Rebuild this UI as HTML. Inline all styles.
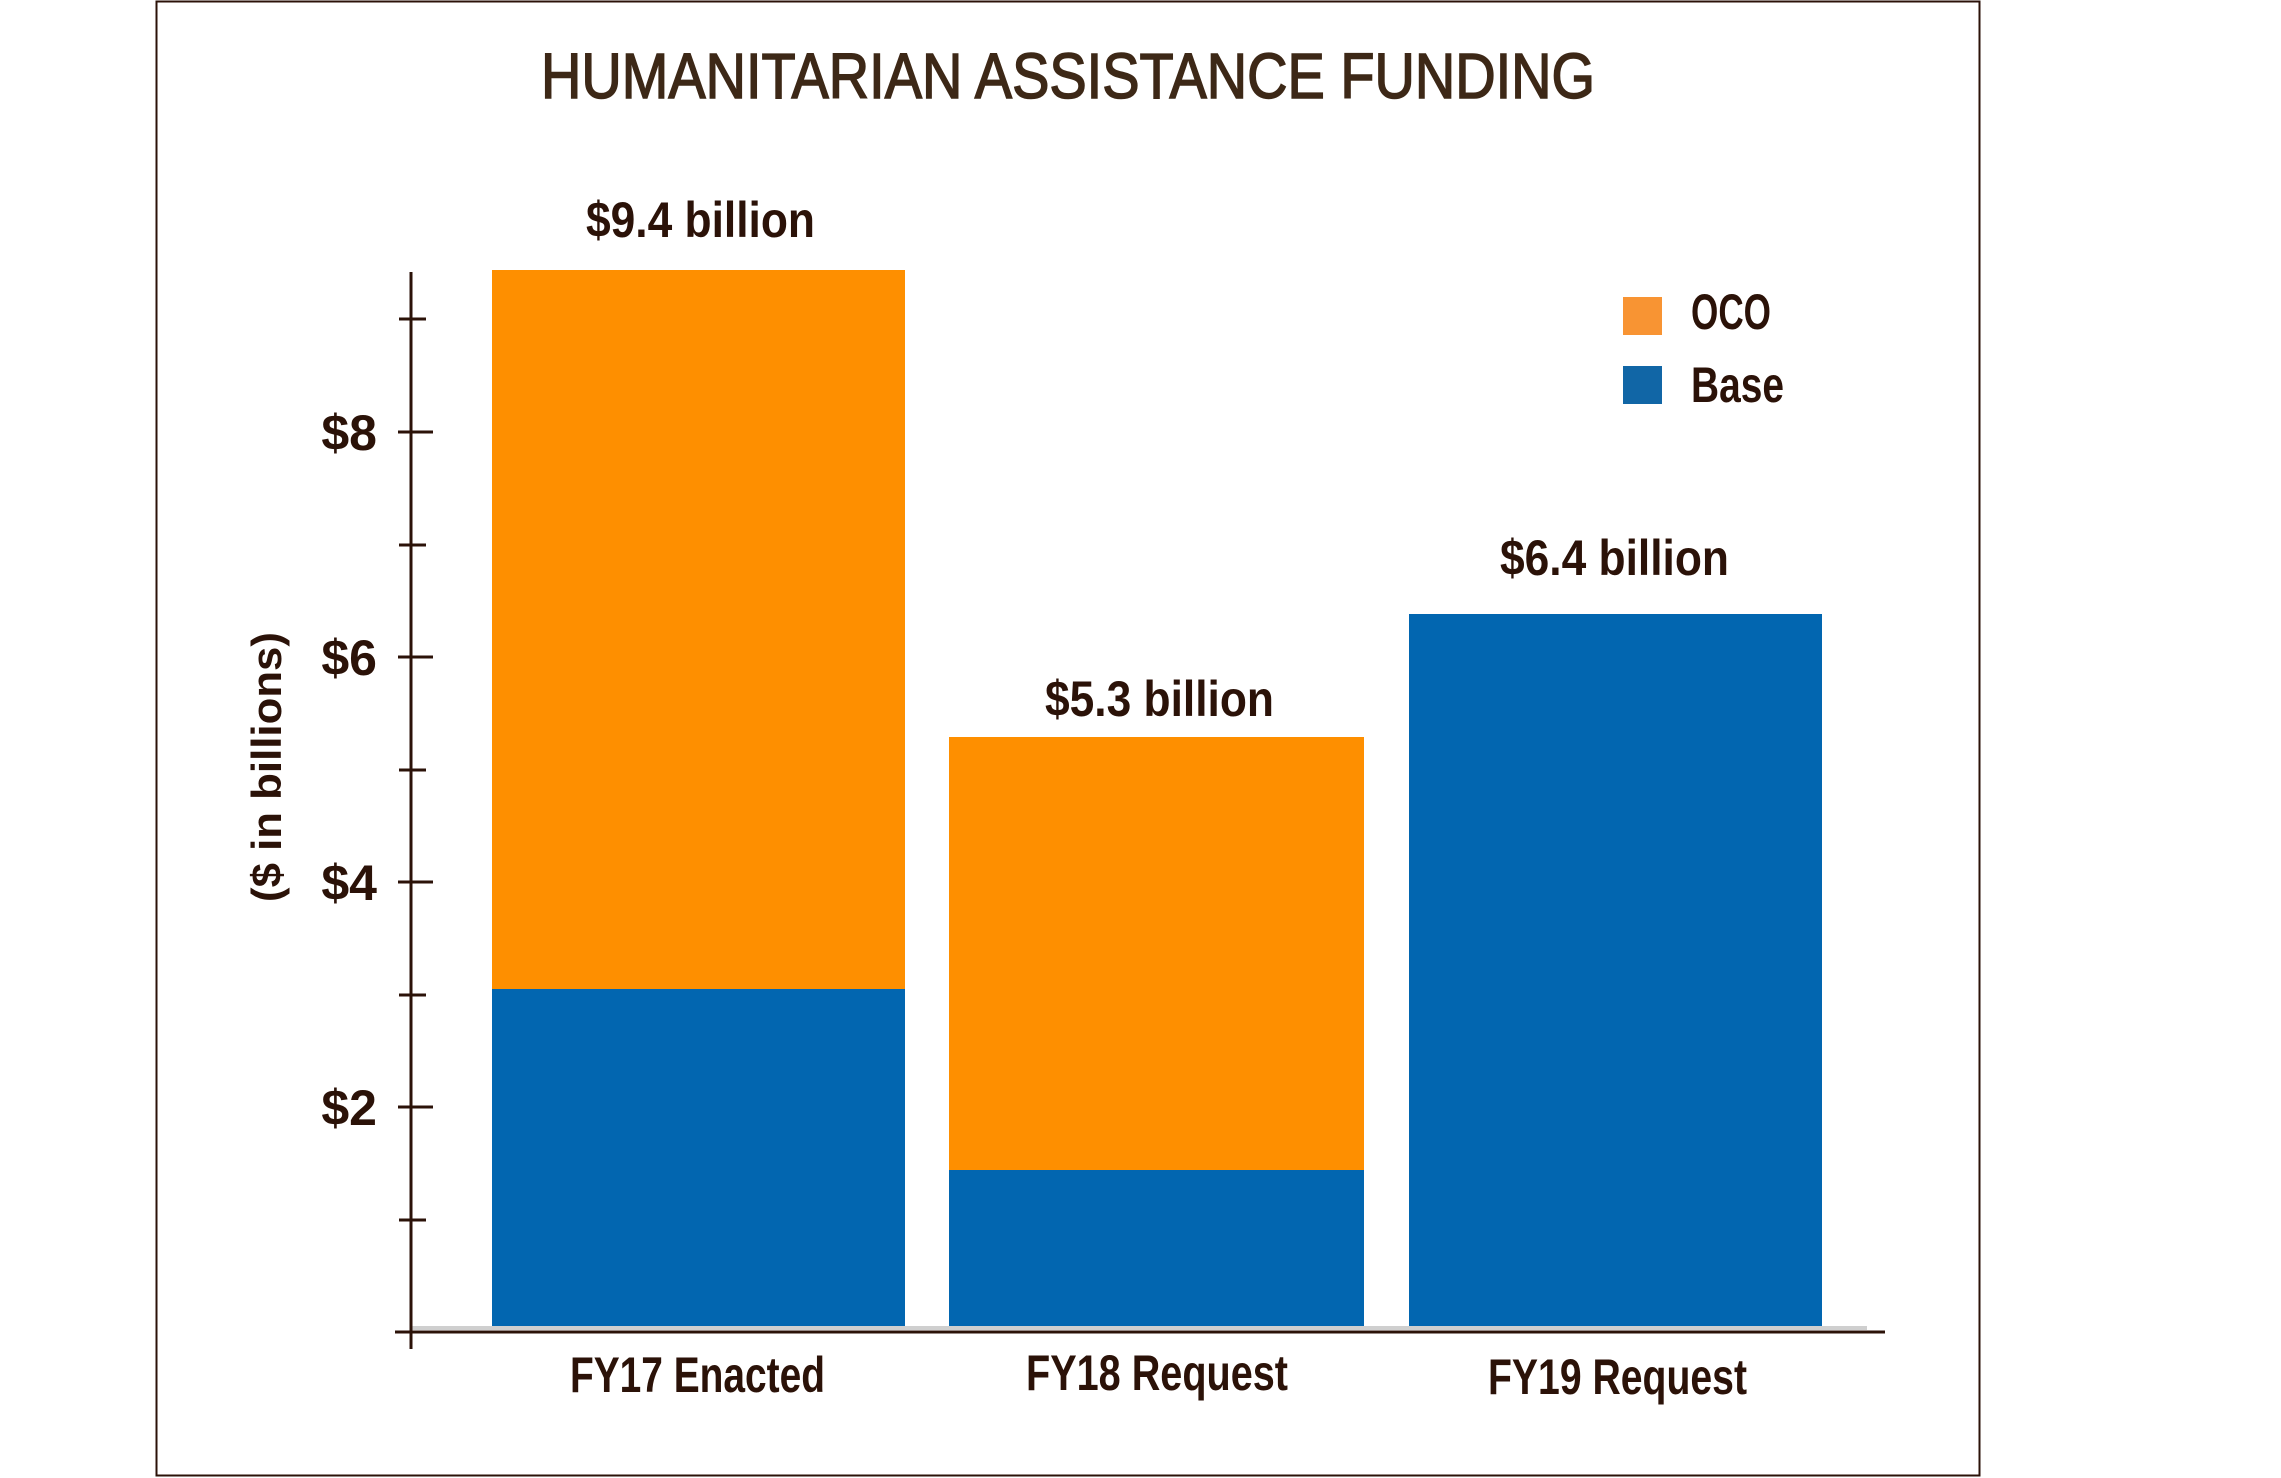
<!DOCTYPE html>
<html><head><meta charset="utf-8"><style>
html,body{margin:0;padding:0;background:#fff;}
svg{display:block;}
</style></head><body>
<svg width="2281" height="1478" viewBox="0 0 2281 1478" xmlns="http://www.w3.org/2000/svg">
<rect x="0" y="0" width="2281" height="1478" fill="#fff"/>
<rect x="156.5" y="1.5" width="1823" height="1474" fill="none" stroke="#2b1208" stroke-width="2"/>
<text x="541" y="98" textLength="1054" lengthAdjust="spacingAndGlyphs" font-family="Liberation Sans Narrow, Liberation Sans, sans-serif" font-size="64" fill="#3d2817" stroke="#3d2817" stroke-width="1.5">HUMANITARIAN ASSISTANCE FUNDING</text>
<rect x="492" y="270" width="413" height="719" fill="#fe8f00"/>
<rect x="492" y="989" width="413" height="340" fill="#0266b0"/>
<rect x="949" y="737" width="415" height="433" fill="#fe8f00"/>
<rect x="949" y="1170" width="415" height="159" fill="#0266b0"/>
<rect x="1409" y="614" width="413" height="715" fill="#0266b0"/>
<rect x="411" y="1326" width="1456" height="4" fill="#cfcfcf"/>
<line x1="395" y1="1332" x2="1885" y2="1332" stroke="#2b1208" stroke-width="3"/>
<line x1="411" y1="272" x2="411" y2="1349" stroke="#2b1208" stroke-width="3"/>
<g stroke="#2b1208" stroke-width="3">
<line x1="398" y1="432" x2="433" y2="432"/>
<line x1="398" y1="657" x2="433" y2="657"/>
<line x1="398" y1="882" x2="433" y2="882"/>
<line x1="398" y1="1107" x2="433" y2="1107"/>
<line x1="399" y1="319" x2="426" y2="319"/>
<line x1="399" y1="545" x2="426" y2="545"/>
<line x1="399" y1="770" x2="426" y2="770"/>
<line x1="399" y1="995" x2="426" y2="995"/>
<line x1="399" y1="1220" x2="426" y2="1220"/>
</g>
<g font-family="Liberation Sans Narrow, Liberation Sans, sans-serif" font-weight="bold" font-size="50" fill="#2b1208" text-anchor="end">
<text x="377" y="450">$8</text>
<text x="377" y="675">$6</text>
<text x="377" y="900">$4</text>
<text x="377" y="1125">$2</text>
</g>
<text transform="translate(281,767) rotate(-90)" text-anchor="middle" textLength="270" lengthAdjust="spacingAndGlyphs" font-family="Liberation Sans, sans-serif" font-weight="bold" font-size="42" fill="#2b1208">($ in billions)</text>
<g font-family="Liberation Sans Narrow, Liberation Sans, sans-serif" font-weight="bold" font-size="50" fill="#2b1208">
<text x="586" y="237" textLength="229" lengthAdjust="spacingAndGlyphs">$9.4 billion</text>
<text x="1045" y="716" textLength="229" lengthAdjust="spacingAndGlyphs">$5.3 billion</text>
<text x="1500" y="575" textLength="229" lengthAdjust="spacingAndGlyphs">$6.4 billion</text>
<text x="570" y="1392" textLength="255" lengthAdjust="spacingAndGlyphs">FY17 Enacted</text>
<text x="1026" y="1390" textLength="262" lengthAdjust="spacingAndGlyphs">FY18 Request</text>
<text x="1488" y="1394" textLength="259" lengthAdjust="spacingAndGlyphs">FY19 Request</text>
<text x="1691" y="329" textLength="80" lengthAdjust="spacingAndGlyphs">OCO</text>
<text x="1691" y="402" textLength="93" lengthAdjust="spacingAndGlyphs">Base</text>
</g>
<rect x="1623" y="297" width="39" height="38" fill="#f89433"/>
<rect x="1623" y="366" width="39" height="38" fill="#1166a6"/>
</svg>
</body></html>
